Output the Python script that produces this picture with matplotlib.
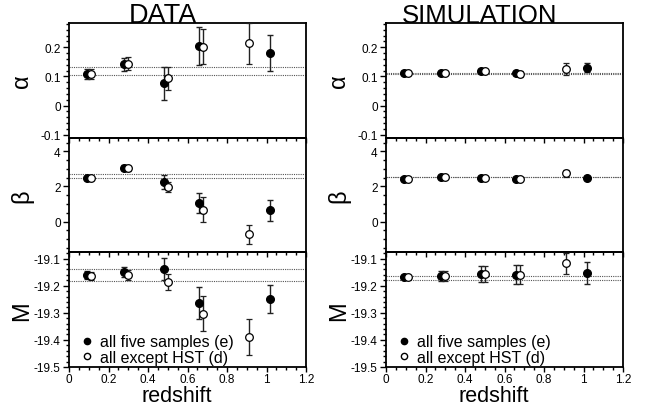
import numpy as np
import matplotlib
matplotlib.use("Agg")
import matplotlib.pyplot as plt
from matplotlib.ticker import MultipleLocator
from matplotlib.lines import Line2D

plt.rcParams['font.family'] = ['Liberation Sans', 'DejaVu Sans']

# redshift bins: filled = all five samples (e), open = all except HST (d)
z_e = [0.09, 0.28, 0.48, 0.66, 1.02]
z_d = [0.11, 0.30, 0.50, 0.68, 0.91]

# DATA
data_alpha_e = [0.107, 0.141, 0.076, 0.204, 0.179]
data_alpha_e_err = [0.017, 0.023, 0.057, 0.065, 0.062]
data_alpha_d = [0.108, 0.144, 0.093, 0.201, 0.213]
data_alpha_d_err = [0.017, 0.021, 0.040, 0.060, 0.070]
data_alpha_lines = [0.133, 0.106]

data_beta_e = [2.47, 3.08, 2.27, 1.06, 0.65]
data_beta_e_err = [0.08, 0.15, 0.40, 0.58, 0.60]
data_beta_d = [2.47, 3.03, 1.98, 0.68, -0.73]
data_beta_d_err = [0.08, 0.15, 0.28, 0.70, 0.55]
data_beta_lines = [2.72, 2.47]

data_M_e = [-19.160, -19.150, -19.139, -19.264, -19.248]
data_M_e_err = [0.015, 0.018, 0.041, 0.060, 0.052]
data_M_d = [-19.163, -19.160, -19.186, -19.303, -19.390]
data_M_d_err = [0.015, 0.018, 0.030, 0.066, 0.066]
data_M_lines = [-19.139, -19.183]

# SIMULATION
sim_alpha_e = [0.113, 0.110, 0.120, 0.110, 0.130]
sim_alpha_e_err = [0.004, 0.004, 0.005, 0.006, 0.016]
sim_alpha_d = [0.113, 0.111, 0.120, 0.108, 0.125]
sim_alpha_d_err = [0.004, 0.004, 0.005, 0.010, 0.021]
sim_alpha_lines = [0.111, 0.107]

sim_beta_e = [2.42, 2.55, 2.51, 2.44, 2.51]
sim_beta_e_err = [0.05, 0.05, 0.06, 0.07, 0.08]
sim_beta_d = [2.40, 2.55, 2.51, 2.44, 2.76]
sim_beta_d_err = [0.05, 0.05, 0.06, 0.07, 0.20]
sim_beta_lines = [2.56, 2.53]

sim_M_e = [-19.168, -19.163, -19.157, -19.160, -19.153]
sim_M_e_err = [0.005, 0.018, 0.030, 0.035, 0.040]
sim_M_d = [-19.168, -19.163, -19.157, -19.160, -19.118]
sim_M_d_err = [0.005, 0.018, 0.030, 0.035, 0.040]
sim_M_lines = [-19.163, -19.178]

ylims = [(-0.11, 0.283), (-1.75, 4.78), (-19.5, -19.077)]
ymajor = [0.1, 2, 0.1]
yminor = [0.02, 0.5, 0.02]
ylabels = ['α', 'β', 'M']
ytick_fmt = ['{:g}', '{:g}', '{:.1f}']

columns = [
    ("DATA", 19.5, [(data_alpha_e, data_alpha_e_err, data_alpha_d, data_alpha_d_err, data_alpha_lines),
                    (data_beta_e, data_beta_e_err, data_beta_d, data_beta_d_err, data_beta_lines),
                    (data_M_e, data_M_e_err, data_M_d, data_M_d_err, data_M_lines)]),
    ("SIMULATION", 18.5, [(sim_alpha_e, sim_alpha_e_err, sim_alpha_d, sim_alpha_d_err, sim_alpha_lines),
                          (sim_beta_e, sim_beta_e_err, sim_beta_d, sim_beta_d_err, sim_beta_lines),
                          (sim_M_e, sim_M_e_err, sim_M_d, sim_M_d_err, sim_M_lines)]),
]

W, H = 652, 410
fig = plt.figure(figsize=(W / 100, H / 100), dpi=100)

lefts = [69, 386]
axw = 237
top = 24
ph = (368 - 24) / 3.0

for c, (title, tsize, panels) in enumerate(columns):
    x0 = lefts[c]
    for r, (ye, yee, yd, yde, hl) in enumerate(panels):
        y_top = top + r * ph
        ax = fig.add_axes([x0 / W, 1 - (y_top + ph) / H, axw / W, ph / H])
        ax.set_facecolor('none')
        for v in hl:
            ax.axhline(v, color='#555555', lw=0.8, ls=(0, (1, 1)), zorder=1)
        ax.errorbar(z_e, ye, yerr=yee, fmt='o', ms=5.5, mfc='black', mec='black',
                    ecolor='#222222', elinewidth=1, capsize=2.5, capthick=1, zorder=3)
        ax.errorbar(z_d, yd, yerr=yde, fmt='o', ms=5.5, mfc='white', mec='black', mew=0.9,
                    ecolor='#222222', elinewidth=1, capsize=2.5, capthick=1, zorder=3)
        ax.set_xlim(0, 1.2)
        ax.set_ylim(*ylims[r])
        ax.xaxis.set_major_locator(MultipleLocator(0.2))
        ax.xaxis.set_minor_locator(MultipleLocator(0.05))
        ax.yaxis.set_major_locator(MultipleLocator(ymajor[r]))
        ax.yaxis.set_minor_locator(MultipleLocator(yminor[r]))
        ax.tick_params(which='both', direction='out', labelsize=8.5, width=1)
        ax.tick_params(which='major', length=4)
        ax.tick_params(which='minor', length=2)
        ax.tick_params(axis='x', which='major', length=3.5, pad=0.5)
        ax.tick_params(axis='y', pad=2)
        for s in ax.spines.values():
            s.set_linewidth(1.3)
        fmt = ytick_fmt[r]
        ax.yaxis.set_major_formatter(plt.FuncFormatter(lambda v, p, f=fmt: f.format(round(v, 3))))
        if r < 2:
            ax.tick_params(axis='x', labelbottom=False)
        else:
            ax.xaxis.set_major_formatter(plt.FuncFormatter(lambda v, p: '{:g}'.format(round(v, 2))))
            handles = [Line2D([], [], ls='none', marker='o', ms=4.5, mfc='black', mec='black'),
                       Line2D([], [], ls='none', marker='o', ms=4.5, mfc='white', mec='black')]
            ax.legend(handles, ['all five samples (e)', 'all except HST (d)'],
                      loc='lower left', frameon=False, fontsize=11.5,
                      handlelength=0.6, handletextpad=0.5, labelspacing=0.02,
                      borderaxespad=0.0, bbox_to_anchor=(0.03, -0.035))
        fig.text((x0 - 47) / W, 1 - (y_top + ph / 2) / H, ylabels[r], fontsize=17,
                 rotation=90, ha='center', va='center')
    fig.text((x0 + 94) / W, 1 - 23 / H, title, fontsize=tsize, ha='center', va='baseline')
    fig.text((x0 + 108) / W, 1 - 402 / H, 'redshift', fontsize=15.5, ha='center', va='baseline')

fig.savefig('out.png', dpi=100)
